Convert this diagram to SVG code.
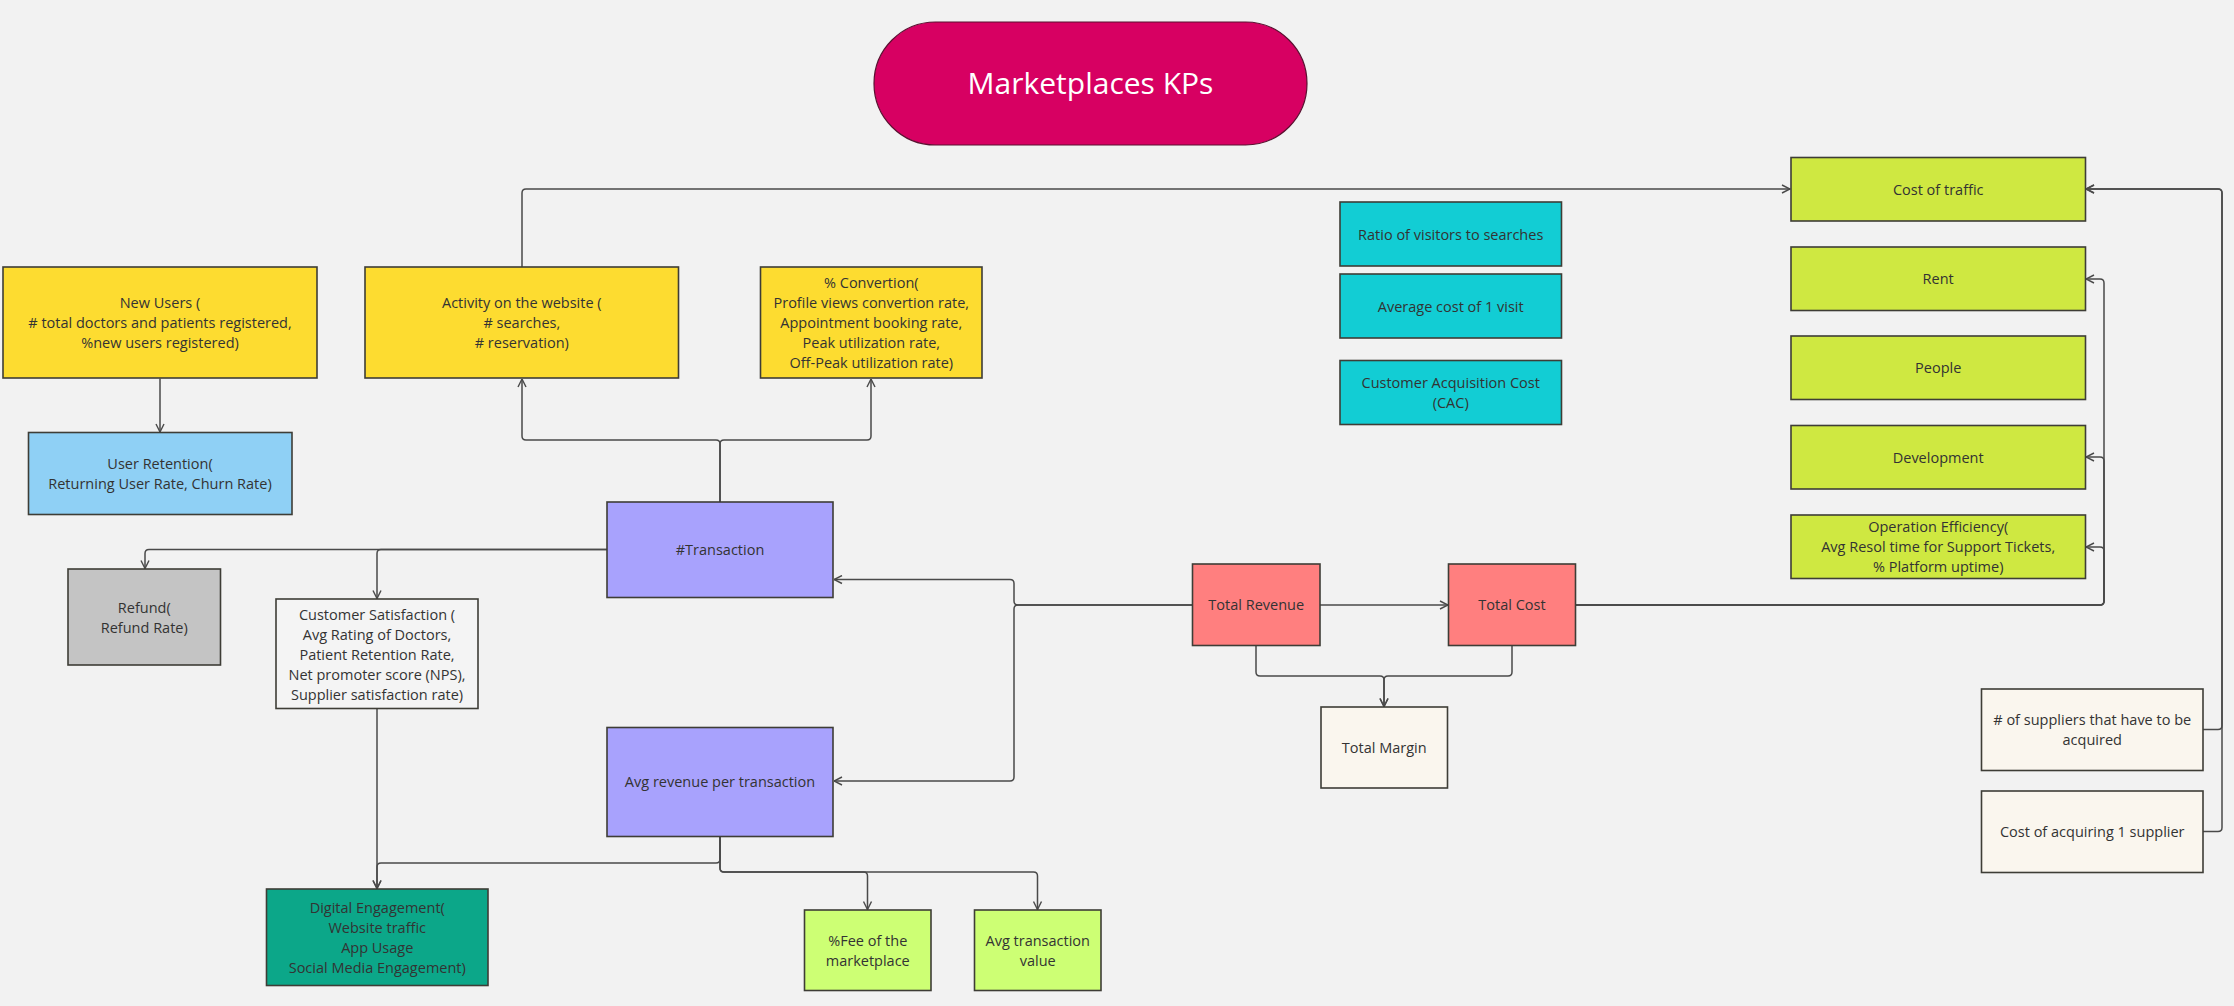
<svg xmlns="http://www.w3.org/2000/svg" width="2234" height="1006" viewBox="0 0 2234 1006">
<style>
.n rect{stroke:#3e3d36;stroke-width:1.6}
.n text{font-family:"Open Sans","Liberation Sans",sans-serif;font-size:14.5px;fill:#333;text-anchor:middle}
.c path{fill:none;stroke:#4a4a4a;stroke-width:1.5}
.yel{fill:#FDDC30}.blu{fill:#8FD0F5}.cya{fill:#12CDD4}.lim{fill:#CFE841}.lav{fill:#A8A2FD}.sal{fill:#FF7F7F}.lgr{fill:#CDFF74}.tea{fill:#0CA789}.gry{fill:#C4C4C4}.crm{fill:#FAF6EE}.wht{fill:#F4F4F4}
</style>
<defs>
<marker id="ah" viewBox="0 0 10 10" refX="9.5" refY="5" markerWidth="10" markerHeight="10" markerUnits="userSpaceOnUse" orient="auto">
<path d="M1.5,1 L9.5,5 L1.5,9" fill="none" stroke="#4a4a4a" stroke-width="1.4"/>
</marker>
</defs>
<rect width="2234" height="1006" fill="#F2F2F2"/>

<g class="c" id="connectors">
<path marker-end="url(#ah)" d="M160,378.5 V432"/>
<path marker-end="url(#ah)" d="M720,502 V444 Q720,440 716,440 H526 Q522,440 522,436 V379"/>
<path marker-end="url(#ah)" d="M720,502 V444 Q720,440 724,440 H867 Q871,440 871,436 V379"/>
<path marker-end="url(#ah)" d="M522,267 V193 Q522,189 526,189 H1790"/>
<path marker-end="url(#ah)" d="M607,549.5 H149 Q145,549.5 145,553.5 V568.5"/>
<path marker-end="url(#ah)" d="M607,549.5 H381 Q377,549.5 377,553.5 V598.5"/>
<path marker-end="url(#ah)" d="M377,708.5 V888.5"/>
<path marker-end="url(#ah)" d="M720,836.5 V859 Q720,863 716,863 H381 Q377,863 377,867 V888.5"/>
<path marker-end="url(#ah)" d="M720,836.5 V868 Q720,872 724,872 H863.5 Q867.5,872 867.5,876 V909.5"/>
<path marker-end="url(#ah)" d="M720,836.5 V868 Q720,872 724,872 H1033.5 Q1037.5,872 1037.5,876 V909.5"/>
<path marker-end="url(#ah)" d="M1192.5,605 H1018 Q1014,605 1014,601 V583.5 Q1014,579.5 1010,579.5 H834"/>
<path marker-end="url(#ah)" d="M1192.5,605 H1018 Q1014,605 1014,609 V777 Q1014,781 1010,781 H834"/>
<path marker-end="url(#ah)" d="M1320,605 H1448"/>
<path marker-end="url(#ah)" d="M1256,645.5 V672 Q1256,676 1260,676 H1380 Q1384,676 1384,680 V706.5"/>
<path marker-end="url(#ah)" d="M1512,645.5 V672 Q1512,676 1508,676 H1388 Q1384,676 1384,680 V706.5"/>
<path marker-end="url(#ah)" d="M1575.5,605 H2100 Q2104,605 2104,601 V283 Q2104,279 2100,279 H2086"/>
<path marker-end="url(#ah)" d="M1575.5,605 H2100 Q2104,605 2104,601 V461 Q2104,457 2100,457 H2086"/>
<path marker-end="url(#ah)" d="M1575.5,605 H2100 Q2104,605 2104,601 V551 Q2104,547 2100,547 H2086"/>
<path marker-end="url(#ah)" d="M2203,729.5 H2218 Q2222,729.5 2222,725.5 V193 Q2222,189 2218,189 H2086"/>
<path marker-end="url(#ah)" d="M2203,831.5 H2218 Q2222,831.5 2222,827.5 V193 Q2222,189 2218,189 H2086"/>
</g>

<g id="title">
<rect x="874" y="22" width="433" height="123" rx="61.5" fill="#D70062" stroke="#5a1030" stroke-width="1.2"/>
<text x="1090.5" y="94" font-family="'Open Sans','Liberation Sans',sans-serif" font-size="30" fill="#FFFFFF" text-anchor="middle">Marketplaces KPs</text>
</g>

<g class="n" id="new-users">
<rect class="yel" x="3" y="267" width="314" height="111"/>
<text x="160" y="308">New Users (</text>
<text x="160" y="328">&#35; total doctors and patients registered,</text>
<text x="160" y="348">%new users registered)</text>
</g>
<g class="n" id="user-retention">
<rect class="blu" x="28.5" y="432.5" width="263.5" height="82"/>
<text x="160" y="469">User Retention(</text>
<text x="160" y="489">Returning User Rate, Churn Rate)</text>
</g>
<g class="n" id="activity">
<rect class="yel" x="365" y="267" width="313.5" height="111"/>
<text x="521.8" y="308">Activity on the website (</text>
<text x="521.8" y="328"># searches,</text>
<text x="521.8" y="348"># reservation)</text>
</g>
<g class="n" id="conversion">
<rect class="yel" x="760.5" y="267" width="221.5" height="111"/>
<text x="871.3" y="288">% Convertion(</text>
<text x="871.3" y="308">Profile views convertion rate,</text>
<text x="871.3" y="328">Appointment booking rate,</text>
<text x="871.3" y="348">Peak utilization rate,</text>
<text x="871.3" y="368">Off-Peak utilization rate)</text>
</g>
<g class="n" id="ratio-visitors">
<rect class="cya" x="1340" y="202" width="221.5" height="64"/>
<text x="1450.7" y="239.5">Ratio of visitors to searches</text>
</g>
<g class="n" id="avg-cost-visit">
<rect class="cya" x="1340" y="274" width="221.5" height="64"/>
<text x="1450.7" y="311.5">Average cost of 1 visit</text>
</g>
<g class="n" id="cac">
<rect class="cya" x="1340" y="360.5" width="221.5" height="64"/>
<text x="1450.7" y="388">Customer Acquisition Cost</text>
<text x="1450.7" y="408">(CAC)</text>
</g>
<g class="n" id="cost-traffic">
<rect class="lim" x="1791" y="157.5" width="294.5" height="63.5"/>
<text x="1938.2" y="194.5">Cost of traffic</text>
</g>
<g class="n" id="rent">
<rect class="lim" x="1791" y="247" width="294.5" height="63.5"/>
<text x="1938.2" y="284">Rent</text>
</g>
<g class="n" id="people">
<rect class="lim" x="1791" y="336" width="294.5" height="63.5"/>
<text x="1938.2" y="373">People</text>
</g>
<g class="n" id="development">
<rect class="lim" x="1791" y="425.5" width="294.5" height="63.5"/>
<text x="1938.2" y="462.5">Development</text>
</g>
<g class="n" id="operation-efficiency">
<rect class="lim" x="1791" y="515" width="294.5" height="63.5"/>
<text x="1938.2" y="532">Operation Efficiency(</text>
<text x="1938.2" y="552">Avg Resol time for Support Tickets,</text>
<text x="1938.2" y="572">% Platform uptime)</text>
</g>
<g class="n" id="transaction">
<rect class="lav" x="607" y="502" width="226" height="95.5"/>
<text x="720" y="555">#Transaction</text>
</g>
<g class="n" id="avg-revenue">
<rect class="lav" x="607" y="727.5" width="226" height="109"/>
<text x="720" y="787">Avg revenue per transaction</text>
</g>
<g class="n" id="refund">
<rect class="gry" x="68" y="569" width="152.5" height="96"/>
<text x="144.25" y="612.5">Refund(</text>
<text x="144.25" y="632.5">Refund Rate)</text>
</g>
<g class="n" id="customer-satisfaction">
<rect class="wht" x="276" y="599" width="202" height="109.5"/>
<text x="377" y="619.5">Customer Satisfaction (</text>
<text x="377" y="639.5">Avg Rating of Doctors,</text>
<text x="377" y="659.5">Patient Retention Rate,</text>
<text x="377" y="679.5">Net promoter score (NPS),</text>
<text x="377" y="699.5">Supplier satisfaction rate)</text>
</g>
<g class="n" id="digital-engagement">
<rect class="tea" x="266.5" y="889" width="221.5" height="96.5"/>
<text x="377.25" y="912.5">Digital Engagement(</text>
<text x="377.25" y="932.5">Website traffic</text>
<text x="377.25" y="952.5">App Usage</text>
<text x="377.25" y="972.5">Social Media Engagement)</text>
</g>
<g class="n" id="total-revenue">
<rect class="sal" x="1192.5" y="564" width="127.5" height="81.5"/>
<text x="1256.25" y="610">Total Revenue</text>
</g>
<g class="n" id="total-cost">
<rect class="sal" x="1448.5" y="564" width="127" height="81.5"/>
<text x="1512" y="610">Total Cost</text>
</g>
<g class="n" id="total-margin">
<rect class="crm" x="1321" y="707" width="126.5" height="81"/>
<text x="1384.25" y="753">Total Margin</text>
</g>
<g class="n" id="fee">
<rect class="lgr" x="804.5" y="910" width="126.5" height="80.5"/>
<text x="867.75" y="945.5">%Fee of the</text>
<text x="867.75" y="965.5">marketplace</text>
</g>
<g class="n" id="avg-transaction-value">
<rect class="lgr" x="974.5" y="910" width="126.5" height="80.5"/>
<text x="1037.75" y="945.5">Avg transaction</text>
<text x="1037.75" y="965.5">value</text>
</g>
<g class="n" id="suppliers-number">
<rect class="crm" x="1981.5" y="689" width="221.5" height="81.5"/>
<text x="2092.25" y="725">&#35; of suppliers that have to be</text>
<text x="2092.25" y="745">acquired</text>
</g>
<g class="n" id="cost-acquiring-supplier">
<rect class="crm" x="1981.5" y="791" width="221.5" height="81.5"/>
<text x="2092.25" y="837">Cost of acquiring 1 supplier</text>
</g>
</svg>
